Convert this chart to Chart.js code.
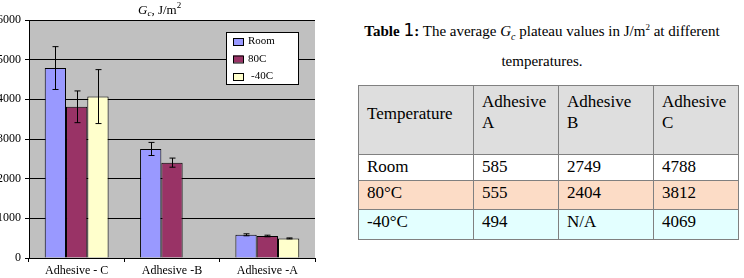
<!DOCTYPE html>
<html>
<head>
<meta charset="UTF-8">
<title>Gc plateau values</title>
<script src="https://cdn.jsdelivr.net/npm/chart.js"></script>
<style>
  body { margin: 0; padding: 0; background: #fff; width: 744px; height: 278px; overflow: hidden; position: relative; font-family: "Liberation Serif", "Times New Roman", serif; }
  #chartBox { position: absolute; left: -8px; top: 0; width: 330px; height: 278px; }
  #caption { position: absolute; left: 350px; top: 15px; width: 384px; text-align: center; font-size: 15px; line-height: 30px; color: #000; font-family: "Liberation Serif", serif; }
  #caption .one { font-family: "DejaVu Sans", sans-serif; font-size: 17px; font-weight: normal; }
  #caption sub, #caption sup { line-height: 0; }
  #gcTable { position: absolute; left: 358px; top: 85px; border-collapse: collapse; table-layout: fixed; color: #000; }
  #gcTable td { font-family: "Liberation Serif", "Times New Roman", serif; font-size: 17px; border: 1.5px solid #808080; padding: 1px 8px 0 8px; vertical-align: top; line-height: 21px; }
  #gcTable tr.head td { background: #dedede; padding-top: 5px; }
  #gcTable tr.head td.temp { padding-top: 17px; }
</style>
</head>
<body>
<div id="chartBox"><canvas id="barChart"></canvas></div>
<div id="caption"><b>Table <span class="one">1</span>:</b> The average <i>G<sub style="font-size:10px">c</sub></i> plateau values in J/m<sup style="font-size:9px">2</sup> at different<br>temperatures.</div>
<table id="gcTable"></table>

<script>
  // chart categories (as drawn, left to right)
  const categories = ["Adhesive - C", "Adhesive -B", "Adhesive -A"];
  const seriesNames = ["Room", "80C", "-40C"];
  const roomValues = [4788, 2749, 585];
  const hotValues = [3812, 2404, 555];
  const coldValues = [4069, null, 494];
  // error bar half-heights
  const roomErr = [540, 165, 25];
  const hotErr = [400, 115, 20];
  const coldErr = [680, null, 12];
  const yTicks = [0, 1000, 2000, 3000, 4000, 5000, 6000];

  // table
  const tableHeader = ["Temperature", "Adhesive A", "Adhesive B", "Adhesive C"];
  const tableRows = ["Room", "80\u00b0C", "-40\u00b0C"];
  const rowColors = ["#ffffff", "#fcdcc6", "#e3ffff"];

  function buildTable() {
    const t = document.getElementById("gcTable");
    const widths = [115, 85, 95, 85];
    let html = "<colgroup>" + widths.map(w => `<col style="width:${w}px">`).join("") + "</colgroup>";
    html += '<tr class="head" style="height:69px">' + tableHeader.map((h, i) =>
      `<td class="${i === 0 ? "temp" : ""}">${i === 0 ? h : h.replace(" ", "<br>")}</td>`).join("") + "</tr>";
    const sets = [roomValues, hotValues, coldValues];
    const heights = [26, 29, 30];
    tableRows.forEach((name, r) => {
      // the table lists A, B, C, i.e. reverse of the chart order
      const vals = sets[r].slice().reverse().map(v => v === null ? "N/A" : v);
      html += `<tr style="background:${rowColors[r]};height:${heights[r]}px"><td>${name}</td>` +
        vals.map(v => `<td>${v}</td>`).join("") + "</tr>";
    });
    t.innerHTML = html;
  }
  buildTable();

  const errors = [roomErr, hotErr, coldErr];

  const plotBackground = {
    id: "plotBackground",
    beforeDraw(chart) {
      const { ctx, chartArea: a } = chart;
      ctx.save();
      ctx.fillStyle = "#c0c0c0";
      ctx.fillRect(a.left, a.top, a.right - a.left, a.bottom - a.top);
      ctx.restore();
    }
  };

  const errorBars = {
    id: "errorBars",
    afterDatasetsDraw(chart) {
      const ctx = chart.ctx;
      const y = chart.scales.y;
      ctx.save();
      ctx.strokeStyle = "#000";
      ctx.lineWidth = 1;
      chart.data.datasets.forEach((ds, di) => {
        const meta = chart.getDatasetMeta(di);
        meta.data.forEach((bar, i) => {
          const v = ds.data[i];
          const e = errors[di][i];
          if (v === null || e === null) return;
          const x = Math.round(bar.x) + 0.5;
          const top = y.getPixelForValue(v + e);
          const bot = y.getPixelForValue(v - e);
          ctx.beginPath();
          ctx.moveTo(x, top); ctx.lineTo(x, bot);
          ctx.moveTo(x - 3, top); ctx.lineTo(x + 3, top);
          ctx.moveTo(x - 3, bot); ctx.lineTo(x + 3, bot);
          ctx.stroke();
        });
      });
      ctx.restore();
    }
  };

  const titleAndLegend = {
    id: "titleAndLegend",
    afterDraw(chart) {
      const { ctx, chartArea: a } = chart;
      ctx.save();
      // title: G_c, J/m^2
      ctx.fillStyle = "#000";
      ctx.textBaseline = "alphabetic";
      let x = 146, base = 14;
      ctx.font = "italic 13px 'Liberation Serif'";
      ctx.fillText("G", x, base); x += ctx.measureText("G").width;
      ctx.font = "italic 9px 'Liberation Serif'";
      ctx.fillText("c", x, base + 2); x += ctx.measureText("c").width;
      ctx.font = "13px 'Liberation Serif'";
      ctx.fillText(", J/m", x, base); x += ctx.measureText(", J/m").width;
      ctx.font = "9px 'Liberation Serif'";
      ctx.fillText("2", x, base - 6);

      // legend box
      const lx = a.right - 89, ly = a.top + 12, lw = 72, lh = 52;
      ctx.fillStyle = "#fff";
      ctx.fillRect(lx, ly, lw, lh);
      ctx.strokeStyle = "#000";
      ctx.lineWidth = 1;
      ctx.strokeRect(lx + 0.5, ly + 0.5, lw, lh);
      ctx.font = "11px 'Liberation Serif'";
      ctx.textBaseline = "middle";
      chart.data.datasets.forEach((ds, i) => {
        const ry = ly + 9.5 + i * 17.5;
        ctx.fillStyle = ds.backgroundColor;
        ctx.fillRect(lx + 7, ry - 3.5, 10, 7);
        ctx.strokeRect(lx + 7.5, ry - 3, 10, 7);
        ctx.fillStyle = "#000";
        ctx.fillText(ds.label, lx + 22 + (i === 2 ? 3 : 0), ry);
      });
      ctx.restore();
    }
  };

  const colors = ["#9999ff", "#993366", "#ffffcc"];
  const values = [roomValues, hotValues, coldValues];

  new Chart(document.getElementById("barChart").getContext("2d"), {
    type: "bar",
    data: {
      labels: categories,
      datasets: seriesNames.map((name, i) => ({
        label: name,
        data: values[i],
        backgroundColor: colors[i],
        borderColor: "#000",
        borderWidth: 1,
        categoryPercentage: 0.67,
        barPercentage: 1.0
      }))
    },
    options: {
      responsive: true,
      maintainAspectRatio: false,
      animation: false,
      layout: { padding: { top: 20, right: 7, left: 0, bottom: 0 } },
      plugins: { legend: { display: false }, title: { display: false }, tooltip: { enabled: false } },
      scales: {
        x: {
          grid: { drawOnChartArea: false, drawTicks: true, tickLength: 4, color: "#000" },
          border: { color: "#000", width: 1 },
          ticks: { color: "#000", font: { family: "Liberation Serif", size: 12 }, padding: 2 },
          afterFit(scale) { scale.height = 20; }
        },
        y: {
          min: 0,
          max: 6000,
          afterBuildTicks(scale) { scale.ticks = yTicks.map(v => ({ value: v })); },
          grid: { color: "#000", tickLength: 4 },
          border: { color: "#000", width: 1 },
          ticks: { color: "#000", font: { family: "Liberation Serif", size: 12 }, padding: 4, callback: v => String(v) },
          afterFit(scale) { scale.width = 37; }
        }
      }
    },
    plugins: [plotBackground, errorBars, titleAndLegend]
  });
</script>
</body>
</html>
